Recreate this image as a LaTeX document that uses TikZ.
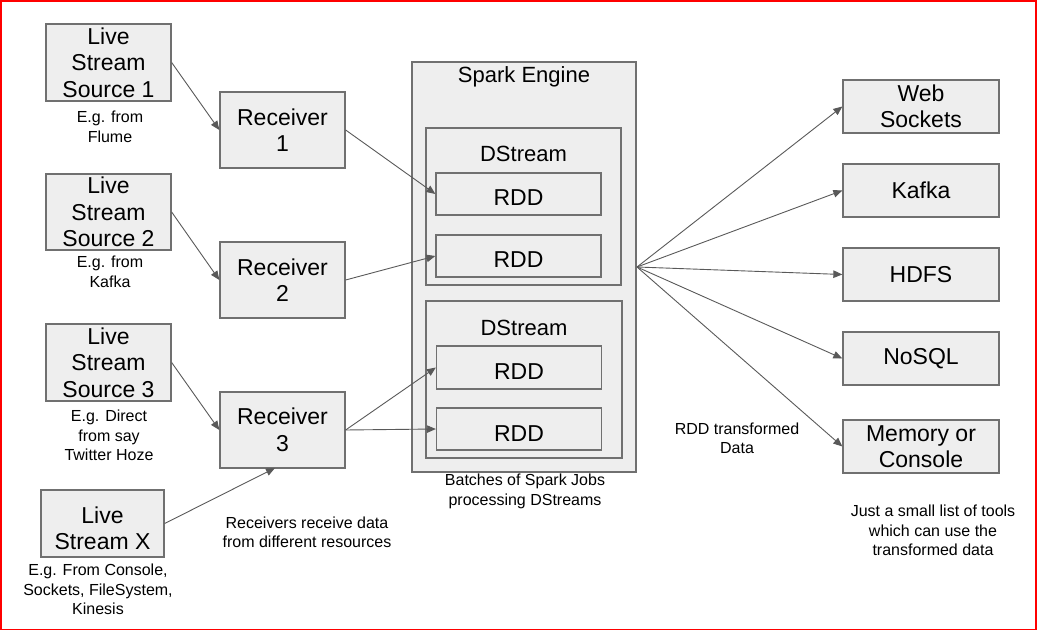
\documentclass[tikz,border=0pt]{standalone}
\usepackage{fontspec}
\setmainfont{Liberation Sans}
\usetikzlibrary{arrows.meta}
\definecolor{boxfill}{HTML}{EEEEEE}
\definecolor{boxline}{HTML}{707070}
\definecolor{arrowc}{HTML}{595959}
\begin{document}
\begin{tikzpicture}[x=1pt,y=-1pt,
  box/.style={draw=boxline,fill=boxfill,line width=1.3pt,inner sep=0pt,align=center,
    font=\fontsize{23}{26.5}\selectfont},
  rddbox/.style={box,minimum width=165pt,minimum height=42pt,text height=24pt,text depth=0pt},
  title/.style={inner sep=0pt,font=\fontsize{22}{26}\selectfont},
  note/.style={inner sep=0pt,align=center,font=\fontsize{16}{19.5}\selectfont},
  conn/.style={draw=arrowc,line width=0.9pt,-{Triangle[length=9pt,width=7.5pt]}}]
\useasboundingbox (0,0) rectangle (1037,631);
\draw[red,line width=1.6pt] (0.8,0.8) rectangle (1035.8,629.6);
% left sources
\node[box,minimum width=125pt,minimum height=77pt] (s1) at (108.5,62.5) {Live\\Stream\\Source 1};
\node[box,minimum width=125pt,minimum height=76pt] (s2) at (108.5,212) {Live\\Stream\\Source 2};
\node[box,minimum width=125pt,minimum height=77pt] (s3) at (108.5,362.5) {Live\\Stream\\Source 3};
\node[box,minimum width=123pt,minimum height=67pt] (sx) at (102.5,523.5) {};
\node[box,draw=none,fill=none] (sxt) at (102.5,528.5) {Live\\Stream X};
\node[note] (c1) at (110,127) {E.g. from\\Flume};
\node[note] (c2) at (110,272) {E.g. from\\Kafka};
\node[note] (c3) at (109,435.5) {E.g. Direct\\from say\\Twitter Hoze};
\node[note] (cx) at (98,589.5) {E.g. From Console,\\Sockets, FileSystem,\\Kinesis};
% receivers
\node[box,minimum width=125pt,minimum height=76pt] (r1) at (282.5,130) {Receiver\\1};
\node[box,minimum width=125pt,minimum height=76pt] (r2) at (282.5,280) {Receiver\\2};
\node[box,minimum width=125pt,minimum height=76pt] (r3) at (282.5,430) {Receiver\\3};
\node[note] (cr) at (307,532.5) {Receivers receive data\\from different resources};
% spark engine
\node[box,minimum width=224pt,minimum height=410pt] (se) at (524,267) {};
\node[title] (set) at (524,77) {Spark Engine};
\node[box,minimum width=195pt,minimum height=157pt] (d1) at (523.5,206.5) {};
\node[title] (d1t) at (523.5,154) {DStream};
\node[rddbox] (rdd1) at (518.5,194) {RDD};
\node[rddbox] (rdd2) at (518.5,256) {RDD};
\node[box,minimum width=196pt,minimum height=157pt] (d2) at (524,379.5) {};
\node[title] (d2t) at (524,328) {DStream};
\node[rddbox,minimum height=43pt] (rdd3) at (519,367.5) {RDD};
\node[rddbox] (rdd4) at (519,429) {RDD};
\node[note] (cse) at (525,491.5) {Batches of Spark Jobs\\processing DStreams};
% outputs
\node[box,minimum width=156pt,minimum height=53pt] (o1) at (921,106.5) {Web\\Sockets};
\node[box,minimum width=156pt,minimum height=53pt] (o2) at (921,190.5) {Kafka};
\node[box,minimum width=156pt,minimum height=53pt] (o3) at (921,274.5) {HDFS};
\node[box,minimum width=156pt,minimum height=53pt] (o4) at (921,358.5) {NoSQL};
\node[box,minimum width=156pt,minimum height=53pt] (o5) at (921,446.5) {Memory or\\Console};
\node[note] (crdd) at (737,438.5) {RDD transformed\\Data};
\node[note] (cout) at (933,530.5) {Just a small list of tools\\which can use the\\transformed data};
% connectors
\coordinate (fan) at (637,267);
\coordinate (r3s) at (275,468);
\draw[conn] (s1.east) -- (r1.west);
\draw[conn] (s2.east) -- (r2.west);
\draw[conn] (s3.east) -- (r3.west);
\draw[conn] (sx.east) -- (r3s);
\draw[conn] (r1.east) -- (rdd1.west);
\draw[conn] (r2.east) -- (rdd2.west);
\draw[conn] (r3.east) -- (rdd3.west);
\draw[conn] (r3.east) -- (rdd4.west);
\draw[conn] (fan) -- (o1.west);
\draw[conn] (fan) -- (o2.west);
\draw[conn] (fan) -- (o3.west);
\draw[conn] (fan) -- (o4.west);
\draw[conn] (fan) -- (o5.west);
\end{tikzpicture}
\end{document}
